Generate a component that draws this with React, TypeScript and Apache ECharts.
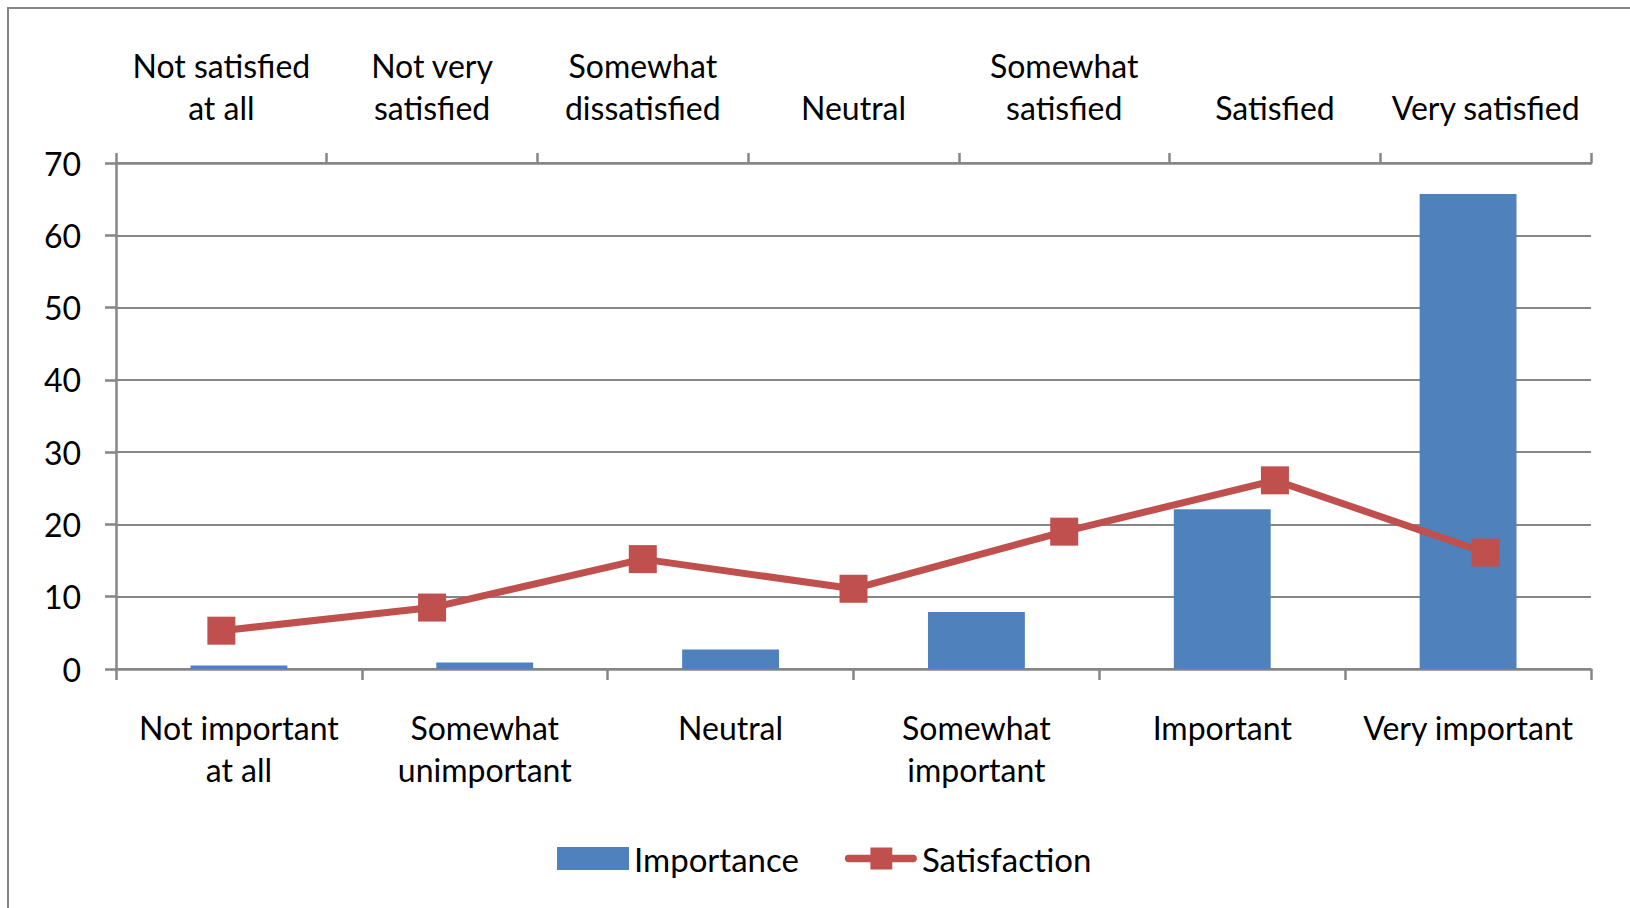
import React, { useEffect, useRef } from "react";
import * as echarts from "echarts";

const importanceCategories = [
  "Not important\nat all",
  "Somewhat\nunimportant",
  "Neutral",
  "Somewhat\nimportant",
  "Important",
  "Very important",
];
const importanceValues = [0.5, 0.9, 2.7, 7.9, 22.1, 65.7];

const satisfactionCategories = [
  "Not satisfied\nat all",
  "Not very\nsatisfied",
  "Somewhat\ndissatisfied",
  "Neutral",
  "Somewhat\nsatisfied",
  "Satisfied",
  "Very satisfied",
];
const satisfactionValues = [5.3, 8.5, 15.2, 11.1, 19.0, 26.1, 16.1];

const yTicks = { min: 0, max: 70, interval: 10 };

const FONT = "Lato";
const GREY = "#868686";
const BLUE = "#4F81BD";
const RED = "#C0504D";

export default function App() {
  const ref = useRef<HTMLDivElement>(null);
  useEffect(() => {
    if (!ref.current) return;
    const chart = echarts.init(ref.current, null, { renderer: "svg" });
    const labelStyle = {
      color: "#000",
      fontFamily: FONT,
      fontSize: 32,
      lineHeight: 42,
    };
    chart.setOption({
      animation: false,
      backgroundColor: "#fff",
      graphic: [
        {
          type: "rect",
          shape: { x: 8, y: 8, width: 1700, height: 1000 },
          style: { fill: "none", stroke: GREY, lineWidth: 2 },
          silent: true,
        },
      ],
      grid: {
        left: 116,
        right: 39,
        top: 163,
        bottom: 239,
        containLabel: false,
        outerBoundsMode: "none",
      },
      legend: {
        show: true,
        bottom: 28,
        left: 552,
        itemWidth: 72,
        itemHeight: 23,
        itemGap: 46,
        textStyle: {
          color: "#000",
          fontFamily: FONT,
          fontSize: 33,
        },
        data: [
          { name: "Importance", icon: "rect" },
          {
            name: "Satisfaction",
            icon: "path://M3,8H27V0H51V8H74A4,4 0 0 1 74,16H51V24H27V16H3A4,4 0 0 1 3,8Z",
          },
        ],
      },
      xAxis: [
        {
          type: "category",
          position: "bottom",
          data: importanceCategories,
          boundaryGap: true,
          axisLine: { show: true, lineStyle: { color: GREY, width: 2.5 } },
          axisTick: {
            show: true,
            alignWithLabel: false,
            length: 11,
            lineStyle: { color: GREY, width: 2.5 },
          },
          axisLabel: { ...labelStyle, margin: 37, interval: 0 },
          splitLine: { show: false },
        },
        {
          type: "category",
          position: "top",
          data: satisfactionCategories,
          boundaryGap: true,
          axisLine: { show: true, lineStyle: { color: GREY, width: 2.5 } },
          axisTick: {
            show: true,
            alignWithLabel: false,
            length: 10,
            lineStyle: { color: GREY, width: 2.5 },
          },
          axisLabel: { ...labelStyle, margin: 35, interval: 0 },
          splitLine: { show: false },
        },
      ],
      yAxis: {
        type: "value",
        min: yTicks.min,
        max: yTicks.max,
        interval: yTicks.interval,
        axisLine: { show: true, lineStyle: { color: GREY, width: 2.5 } },
        axisTick: { show: true, length: 11, lineStyle: { color: GREY, width: 2.5 } },
        axisLabel: { ...labelStyle, margin: 35 },
        splitLine: { show: true, lineStyle: { color: GREY, width: 2 } },
      },
      series: [
        {
          name: "Importance",
          type: "bar",
          xAxisIndex: 0,
          data: importanceValues,
          barWidth: "39.4%",
          itemStyle: { color: BLUE },
          z: 2,
        },
        {
          name: "Satisfaction",
          type: "line",
          xAxisIndex: 1,
          data: satisfactionValues,
          symbol: "rect",
          symbolSize: 28,
          lineStyle: { color: RED, width: 7 },
          itemStyle: { color: RED },
          z: 3,
        },
      ],
    });
    return () => chart.dispose();
  }, []);
  return (
    <div
      ref={ref}
      style={{ position: "absolute", left: 0, top: 0, width: 1630, height: 908 }}
    />
  );
}
